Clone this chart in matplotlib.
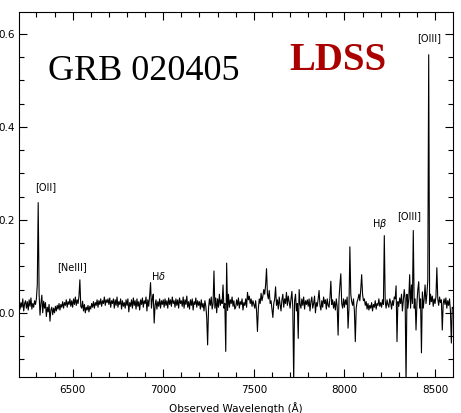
import numpy as np
import matplotlib
matplotlib.use("Agg")
import matplotlib.pyplot as plt

# wavelength grid, 5 A steps from 6200 to 8600
wave = np.arange(6200, 8601, 5)

# flux, one row per 100 A
flux = [
    0.018, 0.028, 0.008, 0.022, 0.012, 0.030, 0.004, 0.020, 0.026, 0.010, 0.024, 0.006, 0.028, 0.014, 0.032, 0.008, 0.020, 0.012, 0.026, 0.018,  # 6200
    0.030, 0.060, 0.237, 0.040, -0.005, 0.020, 0.038, 0.000, 0.025, 0.010, 0.022, -0.008, 0.012, 0.002, 0.018, -0.018, 0.006, 0.012, -0.004, 0.010,  # 6300
    0.000, 0.014, 0.004, 0.016, 0.008, 0.020, 0.006, 0.018, 0.012, 0.024, 0.010, 0.022, 0.016, 0.028, 0.012, 0.024, 0.018, 0.030, 0.014, 0.026,  # 6400
    0.012, 0.030, 0.018, 0.034, 0.016, 0.028, 0.020, 0.036, 0.071, 0.014, 0.010, 0.025, 0.004, 0.018, 0.000, 0.012, 0.006, 0.016, 0.002, 0.014,  # 6500
    0.008, 0.020, 0.012, 0.024, 0.010, 0.022, 0.016, 0.028, 0.012, 0.026, 0.018, 0.030, 0.014, 0.026, 0.020, 0.034, 0.016, 0.028, 0.022, 0.030,  # 6600
    0.018, 0.032, 0.012, 0.026, 0.020, 0.030, 0.010, 0.028, 0.016, 0.034, 0.012, 0.024, 0.018, 0.030, 0.008, 0.026, 0.014, 0.022, 0.010, 0.028,  # 6700
    0.016, 0.030, 0.002, 0.022, 0.014, 0.028, 0.010, 0.032, 0.016, 0.026, 0.008, 0.030, 0.014, 0.024, 0.006, 0.028, 0.018, 0.032, 0.012, 0.026,  # 6800
    0.020, 0.034, 0.004, 0.028, 0.014, 0.036, 0.065, 0.010, 0.030, 0.040, -0.022, 0.016, 0.028, 0.008, 0.024, 0.014, 0.030, 0.010, 0.026, 0.018,  # 6900
    0.028, 0.012, 0.030, 0.016, 0.026, 0.010, 0.032, 0.018, 0.028, 0.014, 0.034, 0.020, 0.026, 0.012, 0.030, 0.016, 0.028, 0.010, 0.032, 0.020,  # 7000
    0.026, 0.014, 0.034, 0.010, 0.028, 0.018, 0.036, 0.012, 0.024, 0.008, 0.028, 0.016, 0.030, 0.006, 0.024, 0.018, 0.032, 0.012, 0.026, 0.016,  # 7100
    0.024, 0.008, 0.028, 0.012, 0.020, 0.004, 0.026, 0.014, -0.010, -0.069, 0.010, 0.030, 0.016, 0.034, 0.008, 0.020, 0.090, 0.010, 0.032, 0.000,  # 7200
    0.030, 0.012, 0.040, 0.016, 0.028, 0.020, 0.060, 0.010, 0.020, -0.083, 0.107, 0.005, 0.040, 0.012, 0.028, 0.020, 0.034, 0.014, 0.026, 0.008,  # 7300
    0.012, 0.028, 0.016, 0.032, 0.010, 0.024, 0.018, 0.030, 0.006, 0.022, 0.016, 0.030, 0.012, 0.044, 0.028, 0.036, 0.020, 0.030, 0.014, 0.026,  # 7400
    0.018, 0.010, 0.026, 0.004, -0.040, 0.010, 0.030, 0.020, 0.042, 0.026, 0.036, 0.050, 0.040, 0.060, 0.095, 0.040, 0.030, 0.048, 0.020, 0.026,  # 7500
    0.008, -0.010, 0.020, 0.030, 0.056, 0.016, 0.028, 0.008, 0.034, 0.018, 0.004, 0.028, 0.040, 0.012, 0.030, 0.020, 0.044, 0.016, 0.036, 0.024,  # 7600
    0.010, 0.030, 0.046, 0.012, -0.150, 0.026, 0.040, 0.004, 0.020, -0.055, 0.050, 0.018, 0.010, 0.030, 0.016, 0.034, 0.008, 0.026, 0.018, 0.028,  # 7700
    0.014, 0.030, 0.004, 0.024, 0.034, 0.010, 0.020, 0.036, 0.000, 0.022, 0.014, 0.030, 0.048, 0.016, 0.006, 0.026, 0.012, 0.034, 0.020, 0.028,  # 7800
    0.008, 0.030, 0.016, 0.012, 0.032, 0.068, 0.018, 0.028, 0.010, 0.024, 0.006, 0.030, 0.014, -0.048, 0.030, 0.060, 0.084, 0.020, 0.010, 0.030,  # 7900
    0.012, 0.028, 0.018, 0.034, -0.033, 0.010, 0.142, 0.040, 0.024, 0.016, 0.030, 0.004, -0.062, 0.010, 0.024, 0.030, 0.040, 0.026, 0.050, 0.082,  # 8000
    0.040, 0.026, 0.030, 0.016, 0.024, 0.008, 0.020, 0.006, 0.016, 0.010, 0.022, 0.004, 0.018, 0.012, 0.026, 0.008, 0.020, 0.016, 0.030, 0.014,  # 8100
    0.022, 0.012, 0.028, 0.018, 0.166, 0.024, 0.010, 0.028, 0.018, 0.012, 0.030, 0.022, 0.008, 0.026, 0.016, 0.034, 0.030, 0.058, -0.062, 0.024,  # 8200
    0.014, 0.032, 0.020, 0.040, 0.004, 0.028, 0.050, 0.030, -0.150, 0.040, 0.010, 0.030, 0.082, 0.010, 0.060, 0.020, 0.177, 0.010, 0.030, -0.037,  # 8300
    0.020, 0.050, 0.067, 0.010, 0.030, -0.086, 0.045, 0.010, 0.030, 0.060, 0.020, 0.040, 0.070, 0.555, 0.018, 0.040, 0.024, 0.036, 0.014, 0.030,  # 8400
    0.020, 0.035, 0.097, 0.030, 0.016, 0.034, 0.022, 0.028, -0.037, 0.020, 0.030, 0.018, 0.032, 0.010, 0.026, 0.016, 0.030, 0.004, -0.065, 0.012,  # 8500
    0.010,  # 8600
]

# emission line labels: text, label centre (wavelength, flux)
line_names = ["[OII]", "[NeIII]", r"H$\delta$", r"H$\beta$", "[OIII]", "[OIII]"]
line_wave = [6353, 6497, 6976, 8194, 8357, 8470]
line_y = [0.271, 0.099, 0.080, 0.191, 0.209, 0.591]

fig = plt.figure(figsize=(4.61, 4.13), dpi=100)
ax = fig.add_axes([0.0412, 0.0872, 0.9414, 0.8838])

ax.plot(wave, flux, color="black", lw=0.8)

ax.set_xlim(6204, 8599)
ax.set_ylim(-0.138, 0.647)
ax.set_xticks([6500, 7000, 7500, 8000, 8500])
ax.set_xticks(np.arange(6300, 8600, 100), minor=True)
ax.set_yticks([0.0, 0.2, 0.4, 0.6])
ax.set_yticks(np.arange(-0.1, 0.65, 0.05), minor=True)
ax.tick_params(which="both", direction="in", top=True, right=True,
               labelsize=7.5, width=0.8)
ax.tick_params(which="major", length=6)
ax.tick_params(which="minor", length=3.5)
ax.tick_params(axis="x", which="major", pad=6)
ax.tick_params(axis="y", which="major", pad=3)
for s in ax.spines.values():
    s.set_linewidth(0.8)
ax.set_xlabel("Observed Wavelength (Å)", fontsize=7.5, labelpad=5)

for name, w, y in zip(line_names, line_wave, line_y):
    ax.text(w, y, name, fontsize=7, ha="center", va="center")

ax.text(0.067, 0.814, "GRB 020405", transform=ax.transAxes,
        family="Liberation Serif", fontsize=26, va="baseline")
ax.text(0.622, 0.841, "LDSS", transform=ax.transAxes,
        family="Liberation Serif", fontsize=28, fontweight="bold",
        color="#aa0000", va="baseline")

fig.savefig("out.png", dpi=100)
